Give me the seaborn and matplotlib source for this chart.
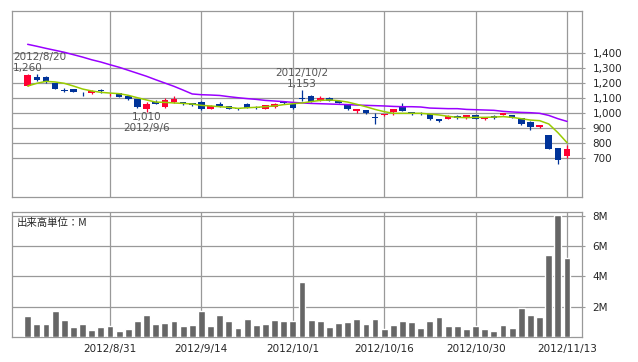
import matplotlib
matplotlib.use("Agg")
import matplotlib.pyplot as plt
import seaborn as sns

# trading days 2012/8/20 - 2012/11/13
dates = ["8/20", "8/21", "8/22", "8/23", "8/24", "8/27", "8/28", "8/29", "8/30", "8/31",
         "9/3", "9/4", "9/5", "9/6", "9/7", "9/10", "9/11", "9/12", "9/13", "9/14",
         "9/18", "9/19", "9/20", "9/21", "9/24", "9/25", "9/26", "9/27", "9/28", "10/1",
         "10/2", "10/3", "10/4", "10/5", "10/9", "10/10", "10/11", "10/12", "10/15", "10/16",
         "10/17", "10/18", "10/19", "10/22", "10/23", "10/24", "10/25", "10/26", "10/29", "10/30",
         "10/31", "11/1", "11/2", "11/5", "11/6", "11/7", "11/8", "11/9", "11/12", "11/13"]

opens = [1182, 1242, 1242, 1198, 1155, 1158, 1128, 1131, 1150, 1124,
         1131, 1115, 1093, 1027, 1075, 1042, 1075, 1071, 1064, 1075,
         1029, 1058, 1047, 1030, 1058, 1038, 1027, 1038, 1071, 1058,
         1095, 1115, 1080, 1100, 1082, 1053, 1013, 1020, 971, 985,
         1004, 1038, 1004, 1000, 993, 960, 962, 980, 964, 987,
         958, 982, 987, 987, 964, 942, 909, 853, 764, 713]
highs = [1260, 1258, 1250, 1200, 1168, 1162, 1142, 1155, 1160, 1135,
         1135, 1120, 1095, 1075, 1085, 1102, 1113, 1075, 1068, 1078,
         1052, 1075, 1050, 1035, 1065, 1045, 1056, 1065, 1080, 1062,
         1153, 1118, 1115, 1108, 1090, 1060, 1026, 1022, 1000, 992,
         1030, 1064, 1010, 1010, 995, 962, 987, 985, 990, 990,
         973, 985, 1000, 990, 967, 944, 922, 855, 766, 787]
lows = [1178, 1213, 1200, 1158, 1138, 1140, 1112, 1128, 1132, 1115,
        1105, 1090, 1035, 1010, 1058, 1031, 1070, 1055, 1048, 1020,
        1027, 1040, 1025, 1018, 1033, 1027, 1025, 1036, 1060, 1028,
        1082, 1073, 1078, 1080, 1065, 1018, 998, 996, 924, 982,
        987, 1013, 985, 985, 955, 940, 958, 958, 958, 960,
        956, 958, 985, 965, 918, 887, 902, 762, 660, 698]
closes = [1253, 1220, 1205, 1160, 1150, 1142, 1124, 1150, 1146, 1128,
          1109, 1093, 1042, 1058, 1062, 1087, 1093, 1060, 1051, 1024,
          1049, 1045, 1027, 1026, 1035, 1034, 1053, 1062, 1067, 1031,
          1091, 1075, 1102, 1082, 1070, 1027, 1024, 998, 967, 989,
          1027, 1015, 1000, 996, 958, 949, 982, 964, 987, 962,
          971, 964, 998, 969, 924, 909, 920, 760, 687, 758]

ma_short = [1180, 1198, 1211, 1207, 1198, 1180, 1160, 1147, 1138, 1133,
            1129, 1118, 1102, 1087, 1073, 1071, 1067, 1064, 1060, 1051,
            1047, 1042, 1038, 1031, 1035, 1038, 1042, 1047, 1056, 1062,
            1067, 1076, 1084, 1087, 1082, 1073, 1058, 1042, 1024, 1009,
            998, 998, 998, 998, 993, 987, 978, 971, 969, 971,
            971, 973, 976, 971, 962, 953, 949, 927, 869, 802]
ma_long = [1458, 1445, 1431, 1418, 1405, 1389, 1373, 1355, 1340, 1322,
           1305, 1285, 1265, 1245, 1222, 1200, 1178, 1153, 1127, 1122,
           1120, 1117, 1109, 1102, 1096, 1091, 1084, 1080, 1076, 1071,
           1067, 1064, 1062, 1060, 1058, 1056, 1053, 1051, 1049, 1047,
           1044, 1042, 1042, 1040, 1033, 1031, 1029, 1029, 1024, 1022,
           1020, 1018, 1011, 1007, 1004, 1002, 998, 984, 962, 944]

# volume in millions of shares
volume = [1.36, 0.84, 0.84, 1.69, 1.10, 0.64, 0.84, 0.44, 0.64, 0.70,
          0.37, 0.51, 1.03, 1.43, 0.84, 0.90, 1.03, 0.70, 0.77, 1.69,
          0.70, 1.43, 1.03, 0.57, 1.16, 0.77, 0.84, 1.10, 1.03, 1.03,
          3.60, 1.10, 1.03, 0.64, 0.90, 0.97, 1.16, 0.84, 1.16, 0.51,
          0.77, 1.03, 0.97, 0.57, 1.03, 1.30, 0.70, 0.70, 0.51, 0.70,
          0.51, 0.37, 0.77, 0.57, 1.89, 1.43, 1.30, 5.45, 8.09, 5.19]

tick_dates = ["8/31", "9/14", "10/1", "10/16", "10/30", "11/13"]
price_ticks = [700, 800, 900, 1000, 1100, 1200, 1300, 1400]
vol_ticks = [2, 4, 6, 8]

UP = "#ff0033"
DOWN = "#003399"
GRID = "#999999"

sns.set_style("white")
plt.rcParams["font.family"] = ["DejaVu Sans", "Noto Sans CJK JP"]

idx = list(range(len(dates)))
tick_pos = [dates.index(d) for d in tick_dates]
xlim = (-1.68, 60.64)

fig = plt.figure(figsize=(6.38, 3.62), dpi=100)
ax = fig.add_axes([0.0193, 0.4566, 0.893, 0.5138])
axv = fig.add_axes([0.0193, 0.0699, 0.893, 0.3436])

for a in (ax, axv):
    a.set_xlim(*xlim)
    a.set_xticks(tick_pos)
    a.grid(True, color=GRID, linewidth=0.9)
    a.set_axisbelow(True)
    for s in a.spines.values():
        s.set_color(GRID)
        s.set_linewidth(0.9)
    a.yaxis.tick_right()
    a.tick_params(axis="y", length=2.5, color=GRID, pad=5, labelsize=7.5)

# candles
colors = [UP if c >= o else DOWN for o, c in zip(opens, closes)]
bottoms = [min(o, c) for o, c in zip(opens, closes)]
heights = [max(abs(c - o), 6) for o, c in zip(opens, closes)]
ax.vlines(idx, lows, highs, colors=colors, linewidth=0.9, zorder=3)
ax.bar(idx, heights, bottom=bottoms, width=0.72, color=colors, linewidth=0, zorder=4)

sns.lineplot(x=idx, y=ma_long, color="#9900ff", linewidth=1.1, ax=ax, zorder=5)
sns.lineplot(x=idx, y=ma_short, color="#99cc00", linewidth=1.1, ax=ax, zorder=5)

ax.set_ylim(442, 1682)
ax.set_yticks(price_ticks)
ax.set_yticklabels([f"{p:,}" for p in price_ticks])
ax.set_xlim(*xlim)
ax.tick_params(axis="x", length=0, labelbottom=False)
ax.set_xlabel("")
ax.set_ylabel("")

# high / low annotations
note = dict(fontsize=7.5, color="#555555", va="center")
ax.text(xlim[0] + 0.05, 1371, "2012/8/20", ha="left", **note)
ax.text(xlim[0] + 0.1, 1298, "1,260", ha="left", **note)
ax.text(30, 1265, "2012/10/2", ha="center", **note)
ax.text(30, 1191, "1,153", ha="center", **note)
ax.text(13, 971, "1,010", ha="center", **note)
ax.text(13, 898, "2012/9/6", ha="center", **note)

# volume
sns.barplot(x=idx, y=volume, color="#666666", saturation=1, width=0.75,
            native_scale=True, ax=axv, zorder=3)
axv.set_xlim(*xlim)
axv.set_ylim(0, 8.25)
axv.set_yticks(vol_ticks)
axv.set_yticklabels([f"{v}M" for v in vol_ticks])
axv.set_xticks(tick_pos)
axv.set_xticklabels(["2012/" + d for d in tick_dates])
axv.tick_params(axis="x", length=3, color=GRID, pad=2, labelsize=7.5)
axv.set_xlabel("")
axv.set_ylabel("")
axv.text(0.008, 0.916, "出来高単位：M", transform=axv.transAxes,
         fontsize=7.5, va="center", ha="left", family=["Noto Sans CJK JP", "DejaVu Sans"])

fig.savefig("out.png", dpi=100)
